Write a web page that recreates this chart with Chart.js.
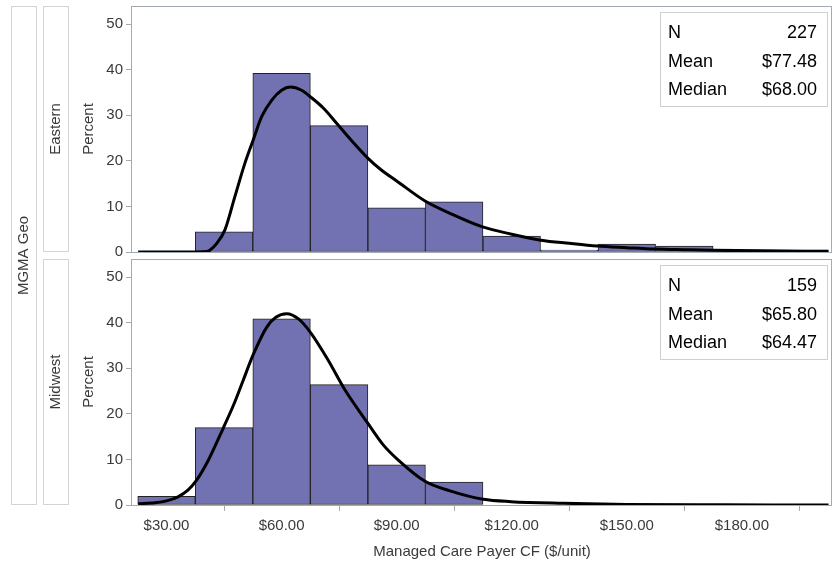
<!DOCTYPE html>
<html><head><meta charset="utf-8">
<script src="https://cdn.jsdelivr.net/npm/chart.js@4"></script>
<style>
html,body{margin:0;padding:0;background:#fff;}
#wrap{position:relative;width:837px;height:563px;overflow:hidden;}
canvas{position:absolute;left:0;top:0;}
</style></head><body>
<div id="wrap"><canvas id="c1" width="837" height="563"></canvas><canvas id="c2" width="837" height="563"></canvas></div>
<script>
// ---------- data ----------
const binCenters = [30, 45, 60, 75, 90, 105, 120, 135, 150, 165, 180, 195];
const easternPct = [0, 4.41, 39.21, 27.75, 9.69, 11.01, 3.52, 0.44, 1.76, 1.32, 0.44, 0.44];
const midwestCenters = [30, 45, 60, 75, 90, 105];
const midwestPct = [1.89, 16.98, 40.88, 26.42, 8.81, 5.03];

const easternCurveX = [22.6, 38, 40.5, 41.3, 43, 45.2, 47.8, 50.4, 52.6, 54.8, 57.4, 60, 62.3, 65.2, 67.6, 71, 74.4, 78.5, 82.6, 86, 90, 97.4, 103.9, 112.4, 120, 127.6, 135, 142.3, 150, 157.5, 165, 172.4, 185, 202.6];
const easternCurveY = [0, 0, 0.1, 0.4, 1.8, 4.8, 12.1, 19.4, 24.6, 29.7, 33.3, 35.5, 36.2, 35.5, 34.0, 31.5, 28.2, 24.2, 20.5, 18.0, 15.6, 11.2, 8.5, 5.5, 3.9, 2.6, 1.9, 1.3, 0.95, 0.65, 0.5, 0.37, 0.25, 0.15];

const midwestCurveX = [22.6, 27, 30, 33, 35.5, 37.8, 41, 44.8, 47.5, 50, 52.6, 56.1, 58.5, 61.3, 64.5, 67.6, 72, 76.5, 82.6, 86.5, 90.5, 97.4, 103.9, 112.6, 119.8, 133.4, 150, 175, 202.6];
const midwestCurveY = [0.3, 0.5, 0.9, 1.8, 3.2, 5.4, 10, 16.9, 22, 27.4, 33, 39, 41.2, 42, 40.8, 37.8, 32, 25.3, 17.8, 13.2, 9.8, 5.2, 3.1, 1.25, 0.74, 0.37, 0.12, 0.03, 0];

const xMajorTicks = [30, 60, 90, 120, 150, 180];
const xTickLabels = ['$30.00', '$60.00', '$90.00', '$120.00', '$150.00', '$180.00'];
const xMinorTicks = [45, 75, 105, 135, 165, 195];
const yTicks = [0, 10, 20, 30, 40, 50];
const panelNames = ['Eastern', 'Midwest'];
const groupTitle = 'MGMA Geo';
const statLabels = ['N', 'Mean', 'Median'];
const easternStats = ['227', '$77.48', '$68.00'];
const midwestStats = ['159', '$65.80', '$64.47'];
const xTitle = 'Managed Care Payer CF ($/unit)';
const yTitle = 'Percent';

// ---------- styling ----------
const FONT = "'Liberation Sans', Arial, Helvetica, sans-serif";
const FRAME = '#a4aab1';
const STRIP = '#d4d4d4';
const TEXT = '#3a3a3a';
const BAR = '#7272b2';
const X_MIN = 21, X_MAX = 203.5, Y_MIN = 0, Y_MAX = 54;

Chart.defaults.font.family = FONT;
Chart.defaults.font.size = 15;
Chart.defaults.color = TEXT;

function vtext(ctx, txt, x, y) {
  ctx.save();
  ctx.translate(x, y);
  ctx.rotate(-Math.PI / 2);
  ctx.textAlign = 'center';
  ctx.textBaseline = 'middle';
  ctx.fillText(txt, 0, 0);
  ctx.restore();
}

const decor = {
  id: 'decor',
  afterDraw(chart, args, o) {
    const ctx = chart.ctx, a = chart.chartArea;
    ctx.save();
    // panel frame
    ctx.strokeStyle = FRAME; ctx.lineWidth = 1;
    ctx.strokeRect(Math.round(a.left) - 0.5, Math.round(a.top) + 0.5, Math.round(a.right - a.left), Math.round(a.bottom - a.top));
    // panel strip
    ctx.strokeStyle = STRIP;
    ctx.strokeRect(43.5, Math.round(a.top) + 0.5, 25, Math.round(a.bottom - a.top) - 1);
    ctx.fillStyle = TEXT; ctx.font = '15px ' + FONT;
    vtext(ctx, o.name, 56, (a.top + a.bottom) / 2);
    if (o.group) {
      ctx.strokeRect(11.5, 6.5, 25, Math.round(a.bottom) - 7);
      vtext(ctx, groupTitle, 24, (6 + a.bottom) / 2);
    }
    // minor ticks
    if (o.minor) {
      const xs = chart.scales.x;
      ctx.strokeStyle = FRAME; ctx.beginPath();
      xMinorTicks.forEach(v => {
        const px = Math.round(xs.getPixelForValue(v)) + 0.5;
        ctx.moveTo(px, a.bottom); ctx.lineTo(px, a.bottom + 3);
      });
      ctx.stroke();
    }
    // stats inset
    const bx = 660.5, by = Math.round(a.top) + o.boxOff + 0.5, bw = 167, bh = 94;
    ctx.fillStyle = '#fff'; ctx.fillRect(bx, by, bw, bh);
    ctx.strokeStyle = '#cfcfcf'; ctx.strokeRect(bx, by, bw, bh);
    ctx.fillStyle = '#000'; ctx.font = '18px ' + FONT; ctx.textBaseline = 'middle';
    statLabels.forEach((l, i) => {
      const yy = by + 21 + i * 28.5;
      ctx.textAlign = 'left'; ctx.fillText(l, 668, yy);
      ctx.textAlign = 'right'; ctx.fillText(o.stats[i], 817, yy);
    });
    ctx.restore();
  }
};

function makeChart(id, centers, pct, cx, cy, opts) {
  return new Chart(document.getElementById(id), {
    type: 'bar',
    data: {
      datasets: [
        { type: 'line', data: cx.map((x, i) => ({ x, y: cy[i] })), borderColor: '#000', borderWidth: 3,
          pointRadius: 0, cubicInterpolationMode: 'monotone', fill: false, order: 0 },
        { type: 'bar', data: centers.map((x, i) => ({ x, y: pct[i] })), backgroundColor: BAR,
          borderColor: '#222', borderWidth: 1, borderSkipped: false, barPercentage: 1, categoryPercentage: 1, order: 1 }
      ]
    },
    options: {
      responsive: false, animation: false, devicePixelRatio: 1,
      layout: { padding: opts.padding },
      plugins: { legend: { display: false }, tooltip: { enabled: false }, decor: opts.decor },
      scales: {
        x: {
          type: 'linear', min: X_MIN, max: X_MAX, offset: false, display: opts.showX,
          afterBuildTicks: s => { s.ticks = xMajorTicks.map(v => ({ value: v })); },
          afterFit: s => { if (opts.showX) s.height = 58; s.paddingLeft = 0; s.paddingRight = 0; },
          ticks: { callback: v => xTickLabels[xMajorTicks.indexOf(v)] || '', padding: 6, maxRotation: 0, autoSkip: false, color: TEXT },
          grid: { drawOnChartArea: false, drawTicks: true, tickLength: 6, color: FRAME },
          border: { display: false },
          title: { display: opts.showX, text: xTitle, padding: { top: 0, bottom: 2 }, color: TEXT }
        },
        y: {
          type: 'linear', min: Y_MIN, max: Y_MAX,
          afterBuildTicks: s => { s.ticks = yTicks.map(v => ({ value: v })); },
          afterFit: s => { s.width = 56; s.paddingTop = 0; s.paddingBottom = 0; },
          ticks: { padding: 3, color: TEXT },
          grid: { drawOnChartArea: false, drawTicks: true, tickLength: 6, color: FRAME },
          border: { display: false },
          title: { display: true, text: yTitle, padding: { top: 4, bottom: 4 }, color: TEXT }
        }
      }
    },
    plugins: [decor]
  });
}

makeChart('c1', binCenters, easternPct, easternCurveX, easternCurveY, {
  padding: { left: 76, top: 6, right: 5, bottom: 311 }, showX: false,
  decor: { name: panelNames[0], stats: easternStats, boxOff: 6, group: false, minor: false }
});
makeChart('c2', midwestCenters, midwestPct, midwestCurveX, midwestCurveY, {
  padding: { left: 76, top: 259, right: 5, bottom: 0 }, showX: true,
  decor: { name: panelNames[1], stats: midwestStats, boxOff: 6, group: true, minor: true }
});
</script>
</body></html>
